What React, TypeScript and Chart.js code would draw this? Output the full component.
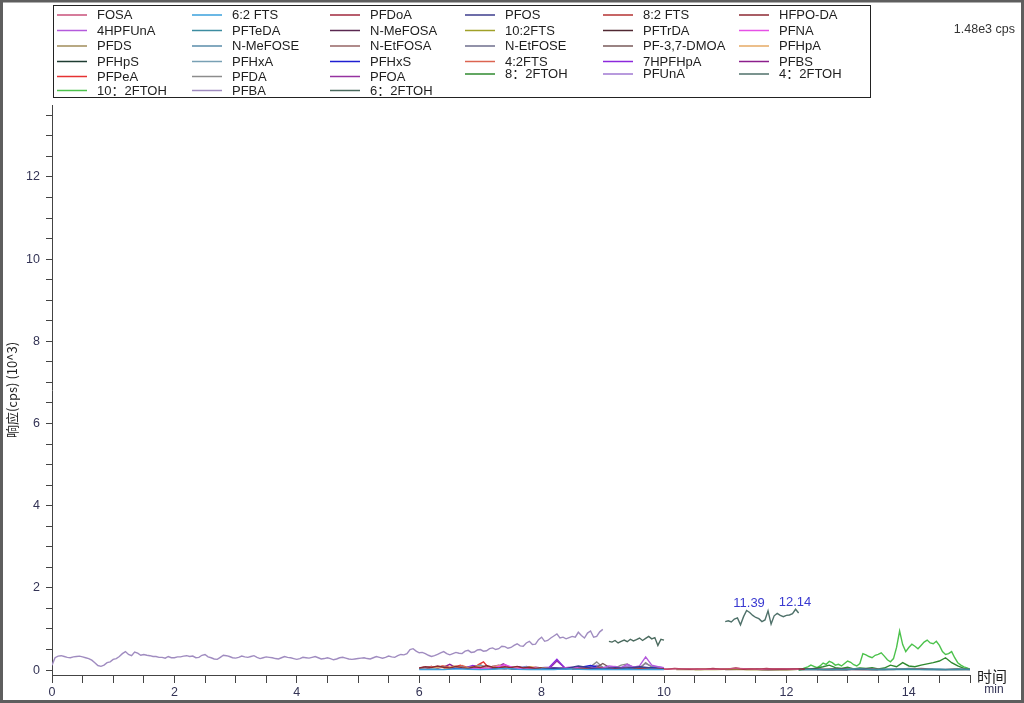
import React, { useEffect, useRef } from 'react';
import { Chart, registerables } from 'chart.js';
Chart.register(...registerables);

const FONT = '"Liberation Sans", Arial, "Noto Sans CJK SC", sans-serif';

// ---- data ----
const seriesNames = [
  'FOSA', '6:2 FTS', 'PFDoA', 'PFOS', '8:2 FTS', 'HFPO-DA',
  '4HPFUnA', 'PFTeDA', 'N-MeFOSA', '10:2FTS', 'PFTrDA', 'PFNA',
  'PFDS', 'N-MeFOSE', 'N-EtFOSA', 'N-EtFOSE', 'PF-3,7-DMOA', 'PFHpA',
  'PFHpS', 'PFHxA', 'PFHxS', '4:2FTS', '7HPFHpA', 'PFBS',
  'PFPeA', 'PFDA', 'PFOA', '8：2FTOH', 'PFUnA', '4：2FTOH',
  '10：2FTOH', 'PFBA', '6：2FTOH',
];

// retention windows (min)
const windowStart = [
  10.0, 6.0, 9.8, 8.0, 8.5, 6.0,
  8.8, 12.2, 11.5, 10.5, 11.0, 6.8,
  10.2, 12.5, 12.5, 12.8, 7.5, 6.2,
  7.0, 6.0, 6.4, 6.0, 6.5, 6.0,
  6.0, 8.5, 6.5, 12.2, 8.5, 11.0,
  12.2, 0.0, 9.1,
];
const windowEnd = [
  12.2, 10.0, 12.3, 10.0, 10.0, 8.0,
  10.0, 15.0, 13.5, 12.2, 13.0, 9.5,
  12.2, 15.0, 15.0, 15.0, 10.0, 8.2,
  10.0, 8.0, 10.0, 7.8, 8.5, 8.0,
  7.8, 10.0, 9.0, 15.0, 10.0, 12.2,
  15.0, 9.0, 10.0,
];

// intensities (10^3 cps)
const FOSA = [0.02, 0.03, 0.03, 0.02, 0.02, 0.03, 0.04, 0.03, 0.02, 0.03, 0.03, 0.02];
const FTS62 = [0.01, 0.02, 0.01, 0.03, 0.02, 0.01, 0.02, 0.04, 0.02, 0.01, 0.02, 0.01, 0.03, 0.02, 0.01, 0.02, 0.01, 0.02, 0.01, 0.02, 0.01];
const PFDoA = [0.02, 0.03, 0.02, 0.04, 0.03, 0.02, 0.03, 0.02, 0.04, 0.02, 0.03, 0.05, 0.02, 0.03, 0.02, 0.04, 0.02, 0.03, 0.02, 0.03, 0.02];
const PFOS = [0.03, 0.05, 0.04, 0.10, 0.05, 0.03, 0.06, 0.04, 0.08, 0.05, 0.03];
const FTS82 = [0.02, 0.04, 0.03, 0.05, 0.02, 0.04, 0.03, 0.02, 0.04, 0.03, 0.02];
const HFPODA = [0.05, 0.08, 0.06, 0.10, 0.07, 0.05, 0.09, 0.06, 0.04, 0.08, 0.06, 0.11, 0.07, 0.05, 0.08, 0.06, 0.09, 0.05, 0.07, 0.04, 0.05];
const HPFUnA4 = [0.04, 0.06, 0.05, 0.10, 0.08, 0.06, 0.14, 0.07, 0.10, 0.32, 0.12, 0.08, 0.05];
const PFTeDA = [0.01, 0.02, 0.01, 0.02, 0.01, 0.03, 0.01, 0.02, 0.01, 0.02, 0.01, 0.02, 0.01, 0.02, 0.01];
const NMeFOSA = [0.02, 0.01, 0.02, 0.03, 0.01, 0.02, 0.01, 0.02, 0.01, 0.02, 0.01];
const FTS102 = [0.01, 0.02, 0.01, 0.02, 0.03, 0.01, 0.02, 0.01, 0.02, 0.01, 0.02];
const PFTrDA = [0.01, 0.02, 0.03, 0.01, 0.02, 0.01, 0.02, 0.03, 0.01, 0.02, 0.01];
const PFNA = [0.03, 0.05, 0.04, 0.07, 0.13, 0.05, 0.04, 0.06, 0.03, 0.05, 0.04, 0.07, 0.05, 0.04, 0.06, 0.03, 0.05, 0.04, 0.03];
const PFDS = [0.01, 0.02, 0.01, 0.03, 0.02, 0.01, 0.02, 0.01, 0.02, 0.01, 0.02];
const NMeFOSE = [0.02, 0.01, 0.03, 0.02, 0.01, 0.02, 0.03, 0.01, 0.02, 0.01, 0.02];
const NEtFOSA = [0.01, 0.03, 0.02, 0.01, 0.02, 0.01, 0.04, 0.02, 0.01, 0.02, 0.01];
const NEtFOSE = [0.02, 0.01, 0.03, 0.02, 0.01, 0.03, 0.02, 0.04, 0.02, 0.01, 0.03, 0.01];
const PF37DMOA = [0.03, 0.04, 0.06, 0.03, 0.05, 0.04, 0.03, 0.06, 0.04, 0.05, 0.03, 0.04, 0.16, 0.05, 0.04, 0.06, 0.03, 0.05, 0.04, 0.03, 0.03];
const PFHpA = [0.05, 0.08, 0.04, 0.10, 0.06, 0.05, 0.09, 0.04, 0.08, 0.12, 0.05, 0.07, 0.04, 0.08, 0.05, 0.06, 0.03];
const PFHpS = [0.02, 0.03, 0.04, 0.02, 0.03, 0.05, 0.02, 0.04, 0.03, 0.02, 0.04, 0.03, 0.05, 0.02, 0.03, 0.02];
const PFHxA = [0.04, 0.07, 0.05, 0.08, 0.04, 0.09, 0.06, 0.07, 0.12, 0.05, 0.08, 0.04, 0.07, 0.05, 0.08, 0.04, 0.05];
const PFHxS = [0.03, 0.04, 0.06, 0.03, 0.05, 0.04, 0.07, 0.03, 0.04, 0.05, 0.03, 0.06, 0.11, 0.04, 0.03, 0.05, 0.04, 0.06, 0.02];
const FTS42 = [0.03, 0.06, 0.09, 0.05, 0.10, 0.07, 0.05, 0.11, 0.06, 0.08, 0.13, 0.05, 0.09, 0.06, 0.04, 0.08, 0.05, 0.03, 0.04];
const HPFHpA7 = [0.04, 0.07, 0.05, 0.11, 0.06, 0.04, 0.08, 0.05, 0.06, 0.04, 0.09, 0.05, 0.06, 0.07, 0.26, 0.06, 0.04];
const PFBS = [0.04, 0.06, 0.09, 0.05, 0.07, 0.14, 0.06, 0.08, 0.05, 0.10, 0.07, 0.06, 0.09, 0.12, 0.06, 0.05, 0.08, 0.06, 0.04, 0.07, 0.05];
const PFPeA = [0.04, 0.07, 0.03, 0.08, 0.05, 0.10, 0.06, 0.04, 0.09, 0.12, 0.05, 0.08, 0.06, 0.14, 0.20, 0.07, 0.05, 0.09, 0.06, 0.04, 0.07, 0.05, 0.03, 0.06, 0.04];
const PFDA = [0.03, 0.05, 0.04, 0.08, 0.20, 0.06, 0.04, 0.05, 0.12, 0.15, 0.06, 0.04, 0.18, 0.07, 0.05, 0.03];
const PFOA = [0.04, 0.06, 0.05, 0.09, 0.04, 0.07, 0.06, 0.15, 0.05, 0.07, 0.04, 0.06, 0.05, 0.04, 0.22, 0.06, 0.05, 0.07, 0.04, 0.06, 0.04];
const FTOH82 = [0.0, 0.02, 0.03, 0.05, 0.08, 0.12, 0.06, 0.04, 0.07, 0.03, 0.05, 0.04, 0.06, 0.03, 0.05, 0.12, 0.08, 0.18, 0.10, 0.08, 0.12, 0.15, 0.18, 0.22, 0.30, 0.18, 0.10, 0.04, 0.02];
const PFUnA = [0.04, 0.05, 0.08, 0.06, 0.12, 0.07, 0.05, 0.09, 0.06, 0.10, 0.08, 0.06, 0.16, 0.09, 0.08, 0.06];
const FTOH42 = [1.18, 1.20, 1.17, 1.24, 1.27, 1.10, 1.30, 1.45, 1.40, 1.33, 1.28, 1.25, 1.18, 1.22, 1.44, 1.12, 1.32, 1.38, 1.33, 1.30, 1.33, 1.34, 1.37, 1.48, 1.39];
const FTOH102 = [
  0.01, 0.02, 0.05, 0.08, 0.12, 0.09, 0.06, 0.10, 0.17, 0.14,
  0.21, 0.18, 0.12, 0.14, 0.10, 0.16, 0.22, 0.19, 0.13, 0.10,
  0.16, 0.40, 0.37, 0.33, 0.30, 0.36, 0.38, 0.42, 0.34, 0.25,
  0.20, 0.28, 0.55, 0.95, 0.62, 0.45, 0.55, 0.63, 0.58, 0.52,
  0.60, 0.68, 0.73, 0.66, 0.64, 0.70, 0.60, 0.45, 0.38, 0.40,
  0.45, 0.30, 0.18, 0.12, 0.08, 0.05, 0.02,
];
const PFBA = [
  0.12, 0.30, 0.34, 0.35, 0.33, 0.31, 0.30, 0.32, 0.33, 0.34, 0.32, 0.30, 0.28, 0.24, 0.18, 0.11, 0.09, 0.12, 0.18, 0.20,
  0.26, 0.28, 0.33, 0.40, 0.45, 0.38, 0.35, 0.44, 0.41, 0.36, 0.38, 0.36, 0.35, 0.33, 0.33, 0.31, 0.31, 0.29, 0.33, 0.30,
  0.30, 0.32, 0.32, 0.34, 0.35, 0.33, 0.34, 0.30, 0.31, 0.36, 0.38, 0.32, 0.30, 0.27, 0.26, 0.31, 0.36, 0.35, 0.33, 0.30,
  0.29, 0.31, 0.34, 0.32, 0.31, 0.33, 0.35, 0.31, 0.28, 0.30, 0.32, 0.31, 0.30, 0.28, 0.27, 0.30, 0.33, 0.31, 0.30, 0.28,
  0.26, 0.28, 0.31, 0.30, 0.29, 0.31, 0.33, 0.30, 0.27, 0.28, 0.30, 0.28, 0.25, 0.27, 0.30, 0.31, 0.29, 0.27, 0.26, 0.27,
  0.28, 0.29, 0.30, 0.28, 0.27, 0.30, 0.33, 0.31, 0.29, 0.31, 0.34, 0.32, 0.31, 0.35, 0.38, 0.37, 0.40, 0.50, 0.52, 0.46,
  0.42, 0.43, 0.40, 0.36, 0.33, 0.35, 0.38, 0.42, 0.45, 0.40, 0.37, 0.40, 0.43, 0.41, 0.40, 0.46, 0.48, 0.43, 0.44, 0.49,
  0.50, 0.46, 0.47, 0.52, 0.54, 0.50, 0.52, 0.58, 0.57, 0.53, 0.55, 0.60, 0.64, 0.59, 0.58, 0.66, 0.70, 0.62, 0.63, 0.74,
  0.80, 0.70, 0.72, 0.78, 0.83, 0.88, 0.78, 0.80, 0.76, 0.79, 0.82, 0.80, 0.92, 0.84, 0.78, 0.90, 0.95, 0.80, 0.82, 0.93,
  0.99,
];
const FTOH62 = [0.70, 0.68, 0.72, 0.66, 0.70, 0.73, 0.69, 0.75, 0.71, 0.74, 0.78, 0.72, 0.77, 0.82, 0.76, 0.79, 0.60, 0.75, 0.73];

const seriesValues = [
  FOSA, FTS62, PFDoA, PFOS, FTS82, HFPODA,
  HPFUnA4, PFTeDA, NMeFOSA, FTS102, PFTrDA, PFNA,
  PFDS, NMeFOSE, NEtFOSA, NEtFOSE, PF37DMOA, PFHpA,
  PFHpS, PFHxA, PFHxS, FTS42, HPFHpA7, PFBS,
  PFPeA, PFDA, PFOA, FTOH82, PFUnA, FTOH42,
  FTOH102, PFBA, FTOH62,
];

const yTickValues = [0, 0.5, 1, 1.5, 2, 2.5, 3, 3.5, 4, 4.5, 5, 5.5, 6, 6.5, 7, 7.5, 8, 8.5, 9, 9.5, 10, 10.5, 11, 11.5, 12, 12.5, 13, 13.5];
const yTickLabels = ['0', '2', '4', '6', '8', '10', '12'];
const xTickLabels = ['0', '2', '4', '6', '8', '10', '12', '14'];

const peakTimes = [11.39, 12.14];
const peakHeights = [1.45, 1.48];
const maxIntensityLabel = '1.48e3 cps';

// ---- styles ----
const seriesColors = [
  '#c8507a', '#3aa0dc', '#a0283c', '#3c3c8c', '#b43232', '#8c2832',
  '#b45adc', '#3c8ca0', '#5a2850', '#a0a028', '#502832', '#e650e6',
  '#a08c5a', '#5a8caa', '#966464', '#6e6e8c', '#785a5a', '#e6aa64',
  '#1e3c32', '#78a0b4', '#1e1ed2', '#dc6450', '#8c28dc', '#8c1e8c',
  '#e63232', '#8c8c8c', '#9632a0', '#2f8a2f', '#a078d2', '#4f716a',
  '#4cc24c', '#a08cc0', '#4a6a5e',
];

const overlayPlugin = {
  id: 'overlay',
  afterDraw(chart: any) {
    const ctx = chart.ctx as CanvasRenderingContext2D;
    const xs = chart.scales.x;
    const ys = chart.scales.y;
    ctx.save();
    // legend box
    ctx.strokeStyle = '#222';
    ctx.lineWidth = 1;
    ctx.strokeRect(53.5, 5.5, 817, 92);
    const colX = [57, 192, 330, 465, 603, 739];
    const rowY = [15, 30.5, 46, 61.5, 76.5, 90.5];
    ctx.font = '13px ' + FONT;
    ctx.textBaseline = 'middle';
    ctx.textAlign = 'left';
    chart.data.datasets.forEach((ds: any, i: number) => {
      const c = i % 6;
      const r = Math.floor(i / 6);
      let y = rowY[r];
      if (r === 4 && c >= 3) y -= 2.5;
      ctx.strokeStyle = ds.borderColor;
      ctx.lineWidth = 1.5;
      ctx.beginPath();
      ctx.moveTo(colX[c], y);
      ctx.lineTo(colX[c] + 30, y);
      ctx.stroke();
      ctx.fillStyle = '#1e1e1e';
      ctx.fillText(ds.label, colX[c] + 40, y + 0.5);
    });
    // max intensity
    ctx.font = '12.5px ' + FONT;
    ctx.fillStyle = '#333';
    ctx.textAlign = 'right';
    ctx.fillText(maxIntensityLabel, 1015, 30);
    // axis unit
    ctx.textAlign = 'center';
    ctx.fillStyle = '#222';
    ctx.font = '15px "Noto Sans CJK SC", ' + FONT;
    ctx.fillText('时间', 992, 676);
    ctx.font = '12px ' + FONT;
    ctx.fillStyle = '#333355';
    ctx.fillText('min', 994, 690);
    // peak labels
    ctx.font = '13px ' + FONT;
    ctx.fillStyle = '#3838d0';
    ctx.textBaseline = 'alphabetic';
    peakTimes.forEach((t, i) => {
      const px = xs.getPixelForValue(t);
      const py = ys.getPixelForValue(peakHeights[i]);
      ctx.fillText(t.toFixed(2), px, py - 3);
    });
    // outer frame
    ctx.strokeStyle = '#5e5e5e';
    ctx.lineWidth = 3;
    ctx.strokeRect(1.5, 1, 1021, 700.5);
    ctx.restore();
  },
};

export default function App() {
  const ref = useRef<HTMLCanvasElement>(null);
  useEffect(() => {
    document.body.style.margin = '0';
    const canvas = ref.current!;
    const datasets = seriesNames.map((name, i) => {
      const vals = seriesValues[i];
      const s = windowStart[i];
      const e = windowEnd[i];
      const n = vals.length;
      return {
        label: name,
        data: vals.map((v, k) => ({ x: s + ((e - s) * k) / (n - 1), y: v })),
        borderColor: seriesColors[i],
        backgroundColor: seriesColors[i],
        borderWidth: 1.4,
        pointRadius: 0,
        fill: false,
        tension: 0,
      };
    });
    const tickColor = '#333355';
    const chart = new Chart(canvas, {
      type: 'line',
      data: { datasets },
      options: {
        responsive: false,
        animation: false,
        events: [],
        layout: { padding: { left: 0, right: 54, top: 105, bottom: 0 } },
        plugins: { legend: { display: false }, tooltip: { enabled: false } },
        scales: {
          x: {
            type: 'linear',
            min: 0,
            max: 15,
            afterFit: (s: any) => { s.height = 28; },
            ticks: {
              stepSize: 0.5,
              autoSkip: false,
              maxRotation: 0,
              padding: 2,
              color: tickColor,
              font: { family: FONT, size: 12.5 },
              callback: (v: any) => (xTickLabels.includes(String(v)) ? String(v) : ''),
            },
            grid: { drawOnChartArea: false, drawTicks: true, tickLength: 8, color: '#444' },
            border: { display: true, color: '#444', width: 1 },
          },
          y: {
            type: 'linear',
            min: -0.12,
            max: 13.75,
            afterFit: (s: any) => { s.width = 52; },
            afterBuildTicks: (s: any) => {
              s.ticks = yTickValues.map((v) => ({ value: v }));
            },
            ticks: {
              autoSkip: false,
              padding: 6,
              color: tickColor,
              font: { family: FONT, size: 12.5 },
              callback: (v: any) => (yTickLabels.includes(String(v)) ? String(v) : ''),
            },
            grid: { drawOnChartArea: false, drawTicks: true, tickLength: 6, color: '#444' },
            border: { display: true, color: '#444', width: 1 },
            title: {
              display: true,
              text: '响应(cps) (10^3)',
              color: '#222',
              font: { family: '"Noto Sans CJK SC", ' + FONT, size: 13 },
              padding: { top: 4, bottom: 0 },
            },
          },
        },
      },
      plugins: [overlayPlugin],
    } as any);
    return () => chart.destroy();
  }, []);
  return <canvas ref={ref} width={1024} height={703} style={{ display: 'block' }} />;
}
